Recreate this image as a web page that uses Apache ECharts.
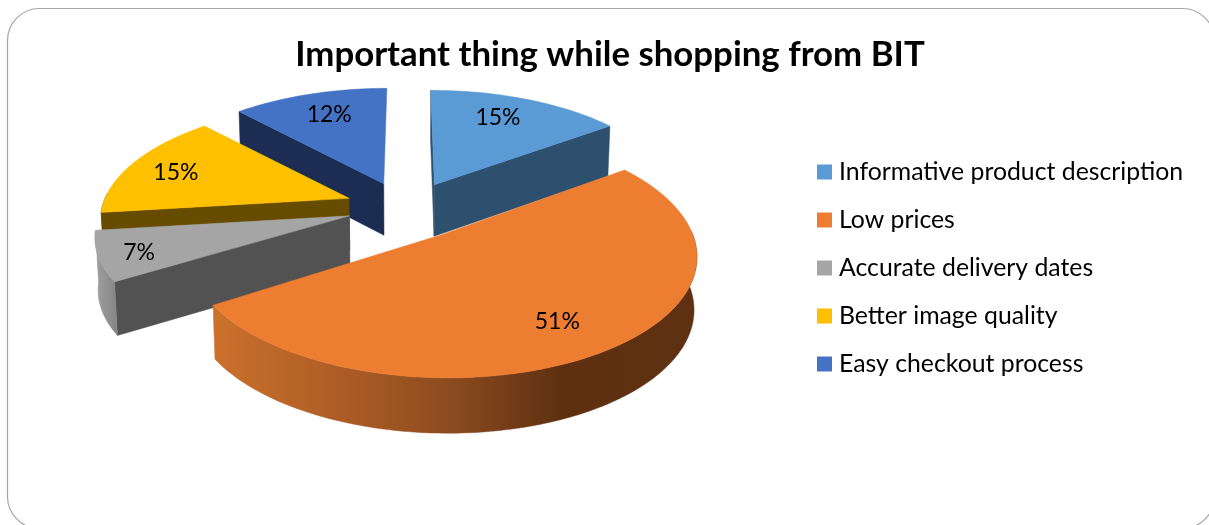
<!DOCTYPE html>
<html>
<head>
<meta charset="utf-8">
<style>html,body{margin:0;padding:0;background:#fff}#chart{width:1209px;height:525px}</style>
<script src="https://cdn.jsdelivr.net/npm/echarts@6/dist/echarts.min.js"></script>
</head>
<body>
<div id="chart"></div>
<script>
// Chart content
const chartTitle = 'Important thing while shopping from BIT';
const categories = ['Informative product description', 'Low prices', 'Accurate delivery dates', 'Better image quality', 'Easy checkout process'];
const shares = [15, 51, 7, 15, 12];

// Slice appearance, in category order
const topColors = ['#5B9BD5', '#ED7D31', '#A5A5A5', '#FFC000', '#4472C4'];
const cutColors = ['#2E506F', '#8A4A1F', '#525252', '#674C00', '#1B2D52'];
const paintOrder = [2, 5, 4, 3, 1];
const labelReach = [0.75, 0.76, 0.85, 0.785, 0.74];
const labelTurn = [-3, 2.5, -1.8, -1.5, 0.8];

// Per-slice pull-out, narrowing and flattening of the tilted disc
const pullX = [1.05, 1, 1.02, 1.05, 1.1];
const pullY = [1, 1.25, 1, 1, 1];
const narrow = [1, 0.98, 1, 1, 1];
const flatten = [0.985, 0.952, 0.94, 0.96, 1];

// Projection of the tilted pie onto the page
const view = { cx: 407, cy: 207, rx: 247, ry: 117.5, persp: 0.16, thick: 52, explodeX: 0.24, explodeY: 0.22 };

function project(u, v, h) {
  const s = 1 / (1 - view.persp * v);
  return [
    view.cx + view.rx * u * s * (1 - 0.01 * h),
    view.cy + view.ry * v * s + h * view.thick * Math.pow(s, 0.3)
  ];
}

function sliceGeometry(index) {
  const total = shares.reduce((a, b) => a + b, 0);
  const before = shares.slice(0, index).reduce((a, b) => a + b, 0);
  const start = before / total * 2 * Math.PI;
  const end = (before + shares[index]) / total * 2 * Math.PI;
  const mid = (start + end) / 2;
  const ox = Math.sin(mid) * view.explodeX * pullX[index];
  const oy = -Math.cos(mid) * view.explodeY * pullY[index];
  const at = (angle, r, h) => project(ox + Math.sin(angle) * r * narrow[index], oy - Math.cos(angle) * r * flatten[index], h);
  const steps = Math.max(8, Math.round((end - start) * 40));
  const angles = [];
  for (let i = 0; i <= steps; i++) angles.push(start + (end - start) * i / steps);
  return { start, end, mid, at, angles };
}

const sideGradient = index => index === 1
  ? new echarts.graphic.LinearGradient(0, 0, 1, 0, [
      { offset: 0, color: '#CB712C' },
      { offset: 0.3, color: '#A85A24' },
      { offset: 0.5, color: '#8A4A1F' },
      { offset: 0.72, color: '#5E3010' },
      { offset: 1, color: '#5E3112' }
    ])
  : index === 2
    ? new echarts.graphic.LinearGradient(0, 0, 1, 0, [
        { offset: 0, color: '#A0A0A0' },
        { offset: 1, color: '#848484' }
      ])
    : cutColors[index];

function renderSlice(index, params, api) {
  const g = sliceGeometry(index);
  const value = api.value(0);
  const poly = (points, fill) => ({ type: 'polygon', shape: { points }, style: { fill, stroke: fill, lineWidth: 0.5 } });
  const cut = angle => poly([g.at(angle, 0, 0), g.at(angle, 1, 0), g.at(angle, 1, 1), g.at(angle, 0, 1)], cutColors[index]);
  const rim = g.angles.map(a => g.at(a, 1, 0));
  const front = g.angles.filter(a => Math.cos(a) < 0.05);
  const children = [];
  // Only the faces turned towards the viewer are drawn below the top surface
  if (-Math.sin(g.start) > -0.01) children.push(cut(g.start));
  if (Math.sin(g.end) > 0.01) children.push(cut(g.end));
  if (front.length > 1) {
    const upper = front.map(a => g.at(a, 1, 0));
    const lower = front.map(a => g.at(a, 1, 1)).reverse();
    children.push(poly(upper.concat(lower), sideGradient(index)));
  }
  children.push(poly([g.at(0, 0, 0)].concat(rim), topColors[index]));
  const labelPos = g.at(g.mid + labelTurn[index] * Math.PI / 180, labelReach[index], 0);
  children.push({
    type: 'text',
    style: {
      x: labelPos[0], y: labelPos[1],
      text: value + '%',
      fill: '#000', font: '23px Lato, sans-serif',
      align: 'center', verticalAlign: 'middle'
    },
    z2: 10
  });
  return { type: 'group', children };
}

const chart = echarts.init(document.getElementById('chart'), null, { renderer: 'canvas' });
chart.setOption({
  animation: false,
  backgroundColor: '#fff',
  title: {
    text: chartTitle,
    left: 605,
    top: 32,
    textAlign: 'center',
    textStyle: { fontFamily: 'Lato, sans-serif', fontWeight: 'bold', fontSize: 34.8, color: '#000' }
  },
  legend: {
    data: categories,
    orient: 'vertical',
    left: 812,
    top: 153,
    itemWidth: 15,
    itemHeight: 15,
    itemGap: 20,
    icon: 'rect',
    selectedMode: false,
    textStyle: { fontFamily: 'Lato, sans-serif', fontSize: 24.8, color: '#000', padding: [0, 0, 0, 2], lineHeight: 28 }
  },
  graphic: [{
    type: 'rect',
    silent: true,
    z: -1,
    shape: { x: 7.5, y: 8.5, width: 1207, height: 520, r: 32 },
    style: { fill: 'none', stroke: '#A6A6A6', lineWidth: 1.2 }
  }],
  series: categories.map((name, i) => ({
    type: 'custom',
    name,
    coordinateSystem: 'none',
    z: paintOrder[i],
    silent: true,
    itemStyle: { color: topColors[i] },
    data: [[shares[i]]],
    renderItem: (params, api) => renderSlice(i, params, api)
  }))
});
</script>
</body>
</html>
